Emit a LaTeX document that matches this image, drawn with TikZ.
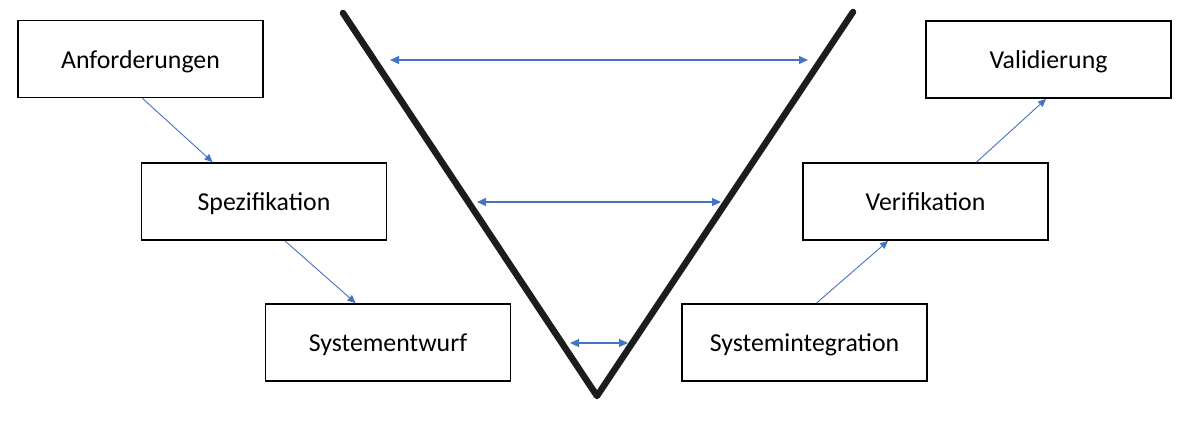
\documentclass[tikz,border=0pt]{standalone}
\usepackage{fontspec}
\setmainfont{Carlito}
\usetikzlibrary{arrows.meta,calc}
\definecolor{vblue}{HTML}{4472C4}
\definecolor{vblack}{HTML}{1C1C1C}
\begin{document}
\begin{tikzpicture}[x=1pt,y=-1pt,
  stage/.style={draw=black,line width=1.8pt,minimum width=245pt,minimum height=77pt,inner sep=0pt,text height=18.6pt,text depth=0pt,font=\fontsize{25.8}{30}\selectfont},
  flow/.style={draw=vblue,line width=0.9pt,-{Triangle[length=8pt,width=7pt]}},
  both/.style={draw=vblue,line width=1.1pt,{Triangle[length=9pt,width=8pt]}-{Triangle[length=9pt,width=8pt]}},
  vline/.style={draw=vblack,line width=6.5pt,line cap=round,line join=round}]
\useasboundingbox (0,0) rectangle (1200,423);
\node[stage] (anf) at (140.5,59) {Anforderungen};
\node[stage] (spez) at (264,201.5) {Spezifikation};
\node[stage] (sysw) at (388,342.5) {Systementwurf};
\node[stage] (sysi) at (804.5,342.5) {Systemintegration};
\node[stage] (veri) at (925.5,201.5) {Verifikation};
\node[stage] (vali) at (1048.5,59.5) {Validierung};
\draw[flow] ($(anf.south)+(2,0)$) -- ($(spez.north west)+(72,0)$);
\draw[flow] ($(spez.south)+(21,0)$) -- ($(sysw.north west)+(91,0)$);
\draw[flow] ($(sysi.north)+(12,0)$) -- ($(veri.south west)+(86,0)$);
\draw[flow] ($(veri.north)+(51,0)$) -- ($(vali.south west)+(121,0)$);
\coordinate (vl) at (343,13);
\coordinate (vb) at (597,396);
\coordinate (vr) at (853,12);
\draw[vline] (vl) -- (vb) -- (vr);
\coordinate (t1) at (390,60);
\coordinate (t2) at (808,60);
\coordinate (m1) at (477,202);
\coordinate (m2) at (721,202);
\coordinate (b1) at (570,343);
\coordinate (b2) at (628,343);
\draw[both] (t1) -- (t2);
\draw[both] (m1) -- (m2);
\draw[both] (b1) -- (b2);
\end{tikzpicture}
\end{document}
